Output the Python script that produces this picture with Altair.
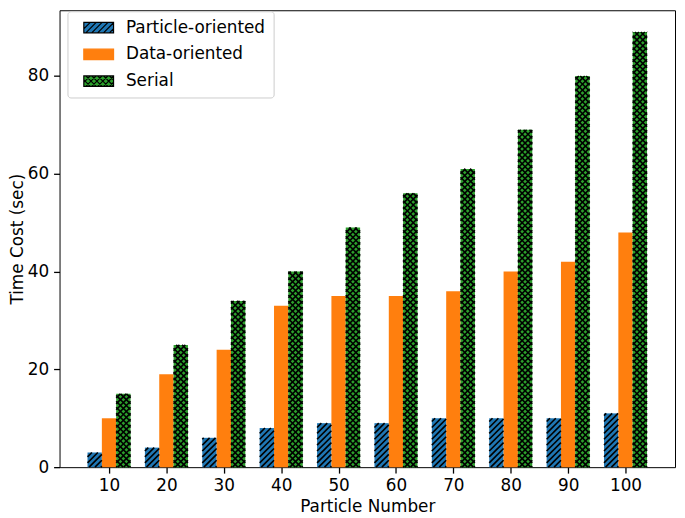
import json
import altair as alt
import pandas as pd

# ---------------- data ----------------
categories = [10, 20, 30, 40, 50, 60, 70, 80, 90, 100]
series_names = ["Particle-oriented", "Data-oriented", "Serial"]
particle_oriented = [3, 4, 6, 8, 9, 9, 10, 10, 10, 11]
data_oriented = [10, 19, 24, 33, 35, 35, 36, 40, 42, 48]
serial = [15, 25, 34, 40, 49, 56, 61, 69, 80, 89]

rows = []
for s, (name, vals) in enumerate(zip(series_names, [particle_oriented, data_oriented, serial])):
    for g, (cat, v) in enumerate(zip(categories, vals)):
        rows.append({"series": name, "s": s, "g": g, "category": cat, "value": v})
df = pd.DataFrame(rows)

# ---------------- layout / style ----------------
W, H = 621, 461
x_min, x_max = -0.8625, 9.8625
y_min, y_max = 0.0, 93.45
kx = W / (x_max - x_min)      # px per x unit
ky = H / (y_max - y_min)      # px per y unit
bw = 0.25                     # bar width (x units)
wpx = bw * kx                 # bar width px
hp = 5.95                     # hatch period px
hatch_w = 1.6                 # hatch line width px
colors = ["#1f77b4", "#ff7f0e", "#2ca02c"]
FONT = "DejaVu Sans"
FS = 17

ne_series = ["Particle-oriented", "Serial"]   # '/' lines
nw_series = ["Serial"]                          # '\' lines (with '/' => 'x')

xscale = alt.Scale(domain=[x_min, x_max], nice=False, zero=False)
yscale = alt.Scale(domain=[y_min, y_max], nice=False, zero=False)
label_map = json.dumps([str(c) for c in categories])
xaxis = alt.Axis(values=list(range(len(categories))), labelExpr=f"{label_map}[datum.value]",
                 title="Particle Number", titlePadding=5)
yaxis = alt.Axis(values=[0, 20, 40, 60, 80], title="Time Cost (sec)", titlePadding=1)

# ---------------- legend (custom swatch symbols) ----------------
SYM = 144
unit = (SYM ** 0.5) / 2.0   # px per symbol unit (6)
sw_w, sw_h = 30.0, 10.5     # swatch size px
hw, hh = sw_w / 2 / unit, sw_h / 2 / unit
step = hp / unit


def swatch_path(ne_lines, nw_lines):
    d = f"M{-hw:.3f},{-hh:.3f}H{hw:.3f}V{hh:.3f}H{-hw:.3f}Z"
    span = 2 * hh

    def lines(direction):
        out = ""
        x0 = -hw - span + 0.1
        while x0 < hw:
            t1 = max(0.0, -hw - x0)
            t2 = min(span, hw - x0)
            if t2 - t1 > 0.05:
                if direction == "ne":
                    a = (x0 + t1, hh - t1)
                    b = (x0 + t2, hh - t2)
                else:
                    a = (x0 + t1, -hh + t1)
                    b = (x0 + t2, -hh + t2)
                out += f"M{a[0]:.3f},{a[1]:.3f}L{b[0]:.3f},{b[1]:.3f}"
            x0 += step
        return out
    if ne_lines:
        d += lines("ne")
    if nw_lines:
        d += lines("nw")
    return d


shapes = [swatch_path(n in ne_series, n in nw_series) for n in series_names]
strokes = ["black", colors[1], "black"]

leg = alt.Legend(title=None, orient="none", legendX=8, legendY=1, symbolSize=SYM,
                 labelFont=FONT, labelFontSize=FS, labelColor="black", labelOffset=19,
                 symbolOffset=15, rowPadding=9, padding=8,
                 fillColor="rgba(255,255,255,0.8)", strokeColor="#cccccc", cornerRadius=3,
                 symbolStrokeWidth=1.2)

color_enc = alt.Color("series:N", scale=alt.Scale(domain=series_names, range=colors), legend=leg)

# ---------------- layers ----------------
base = alt.Chart(df).transform_calculate(
    left=f"datum.g + (datum.s - 1) * {bw} - {bw / 2}"
).transform_calculate(
    right=f"datum.left + {bw}",
    zero="0",
)

bars = base.mark_bar().encode(
    x=alt.X("left:Q", scale=xscale, axis=xaxis),
    x2="right:Q",
    y=alt.Y("value:Q", scale=yscale, axis=yaxis, stack=None),
    y2="zero:Q",
    color=color_enc,
)

ne = base.transform_filter(
    alt.FieldOneOfPredicate(field="series", oneOf=ne_series)
).transform_calculate(
    hpx=f"datum.value * {ky}"
).transform_calculate(
    cs=f"sequence({-wpx + 1.0}, datum.hpx, {hp})"
).transform_flatten(["cs"], as_=["c"]).transform_calculate(
    u1="max(0, -datum.c)",
    u2=f"min({wpx}, datum.hpx - datum.c)",
).transform_filter("datum.u2 > datum.u1 + 0.3").transform_calculate(
    hx1=f"datum.left + datum.u1 / {kx}",
    hx2=f"datum.left + datum.u2 / {kx}",
    hy1=f"(datum.u1 + datum.c) / {ky}",
    hy2=f"(datum.u2 + datum.c) / {ky}",
).mark_rule(color="black", strokeWidth=hatch_w).encode(
    x=alt.X("hx1:Q", scale=xscale, axis=xaxis),
    x2="hx2:Q",
    y=alt.Y("hy1:Q", scale=yscale, axis=yaxis),
    y2="hy2:Q",
)

nw = base.transform_filter(
    alt.FieldOneOfPredicate(field="series", oneOf=nw_series)
).transform_calculate(
    hpx=f"datum.value * {ky}"
).transform_calculate(
    cs=f"sequence(1.0, datum.hpx + {wpx}, {hp})"
).transform_flatten(["cs"], as_=["c"]).transform_calculate(
    u1="max(0, datum.c - datum.hpx)",
    u2=f"min({wpx}, datum.c)",
).transform_filter("datum.u2 > datum.u1 + 0.3").transform_calculate(
    hx1=f"datum.left + datum.u1 / {kx}",
    hx2=f"datum.left + datum.u2 / {kx}",
    hy1=f"(datum.c - datum.u1) / {ky}",
    hy2=f"(datum.c - datum.u2) / {ky}",
).mark_rule(color="black", strokeWidth=hatch_w).encode(
    x=alt.X("hx1:Q", scale=xscale, axis=xaxis),
    x2="hx2:Q",
    y=alt.Y("hy1:Q", scale=yscale, axis=yaxis),
    y2="hy2:Q",
)

legend_layer = alt.Chart(df).transform_filter("false").mark_point(
    filled=True, opacity=1, strokeWidth=1.2
).encode(
    color=color_enc,
    shape=alt.Shape("series:N", scale=alt.Scale(domain=series_names, range=shapes), legend=leg),
    stroke=alt.Stroke("series:N", scale=alt.Scale(domain=series_names, range=strokes), legend=leg),
)

chart = alt.layer(bars, ne, nw, legend_layer).properties(
    width=W, height=H, padding={"left": 0, "top": 0, "right": 2, "bottom": 0}
).configure_view(
    stroke="black", strokeWidth=1
).configure_axis(
    labelFont=FONT, labelFontSize=FS, labelColor="black",
    titleFont=FONT, titleFontSize=FS, titleFontWeight="normal", titleColor="black",
    tickColor="black", tickSize=6, tickWidth=1.3, labelPadding=5, grid=False, domain=False,
)

chart.save("out.html", embed_options={"renderer": "svg", "actions": False})
